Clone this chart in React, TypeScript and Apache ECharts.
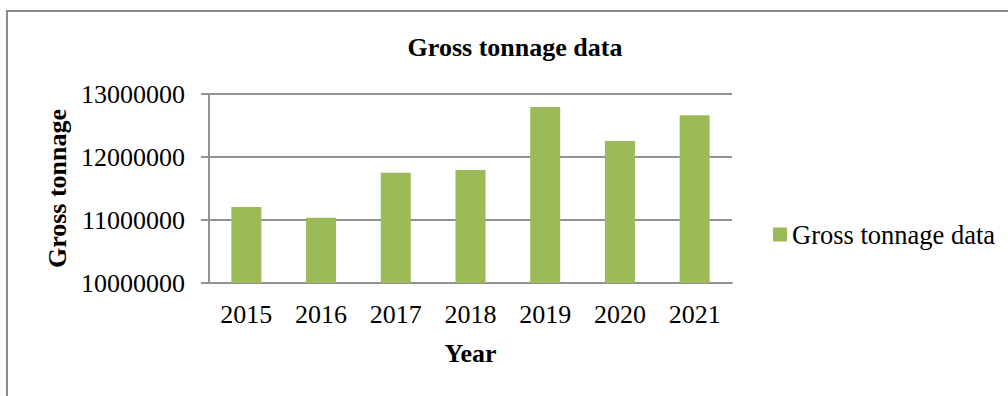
import React, { useEffect, useRef } from "react";
import * as echarts from "echarts";

const years = ["2015", "2016", "2017", "2018", "2019", "2020", "2021"];
const grossTonnage = [11206000, 11037000, 11751000, 11794000, 12794000, 12254000, 12662000];
const yMin = 10000000;
const yMax = 13000000;
const yStep = 1000000;

const SERIF = '"Liberation Serif", "Times New Roman", serif';
const GRID = "#929292";
const GREEN = "#9BBB59";

export default function App() {
  const ref = useRef<HTMLDivElement>(null);
  useEffect(() => {
    if (!ref.current) return;
    const chart = echarts.init(ref.current, null, { renderer: "svg" });
    chart.setOption({
      animation: false,
      backgroundColor: "#ffffff",
      textStyle: { fontFamily: SERIF },
      graphic: [
        {
          type: "rect",
          shape: { x: 7, y: 11, width: 1100, height: 500 },
          style: { fill: "none", stroke: "#8c8c8c", lineWidth: 2 },
          silent: true,
        },
        {
          type: "text",
          x: 515,
          y: 47,
          style: {
            text: "Gross tonnage data",
            fontFamily: SERIF,
            fontSize: 26,
            fontWeight: "bold",
            fill: "#000",
            align: "center",
            verticalAlign: "middle",
          },
        },
      ],
      legend: {
        left: 773,
        top: 221,
        padding: 0,
        icon: "rect",
        itemWidth: 14,
        itemHeight: 14,
        textStyle: { fontFamily: SERIF, fontSize: 26.5, color: "#000" },
        data: ["Gross tonnage data"],
      },
      grid: { left: 209, right: 1008 - 732, top: 94, bottom: 396 - 283, containLabel: false },
      xAxis: {
        type: "category",
        data: years,
        name: "Year",
        nameLocation: "middle",
        nameGap: 57,
        nameTextStyle: { fontFamily: SERIF, fontSize: 26, fontWeight: "bold", color: "#000" },
        axisLine: { show: true, lineStyle: { color: GRID, width: 2 } },
        axisTick: { show: false },
        axisLabel: { fontFamily: SERIF, fontSize: 26, color: "#000", margin: 18 },
      },
      yAxis: {
        type: "value",
        min: yMin,
        max: yMax,
        interval: yStep,
        name: "Gross tonnage",
        nameLocation: "middle",
        nameGap: 137,
        nameTextStyle: { fontFamily: SERIF, fontSize: 26, fontWeight: "bold", color: "#000" },
        axisLine: { show: true, lineStyle: { color: GRID, width: 2 } },
        axisTick: { show: true, length: 8, lineStyle: { color: GRID, width: 2 } },
        axisLabel: {
          fontFamily: SERIF,
          fontSize: 26,
          color: "#000",
          margin: 24,
          formatter: (v: number) => String(v),
        },
        splitLine: { show: true, lineStyle: { color: GRID, width: 2 } },
      },
      series: [
        {
          name: "Gross tonnage data",
          type: "bar",
          data: grossTonnage,
          barWidth: 30,
          itemStyle: { color: GREEN },
        },
      ],
    });
    return () => chart.dispose();
  }, []);
  return (
    <div
      ref={ref}
      style={{ position: "fixed", left: 0, top: 0, width: 1008, height: 396, background: "#fff" }}
    />
  );
}
